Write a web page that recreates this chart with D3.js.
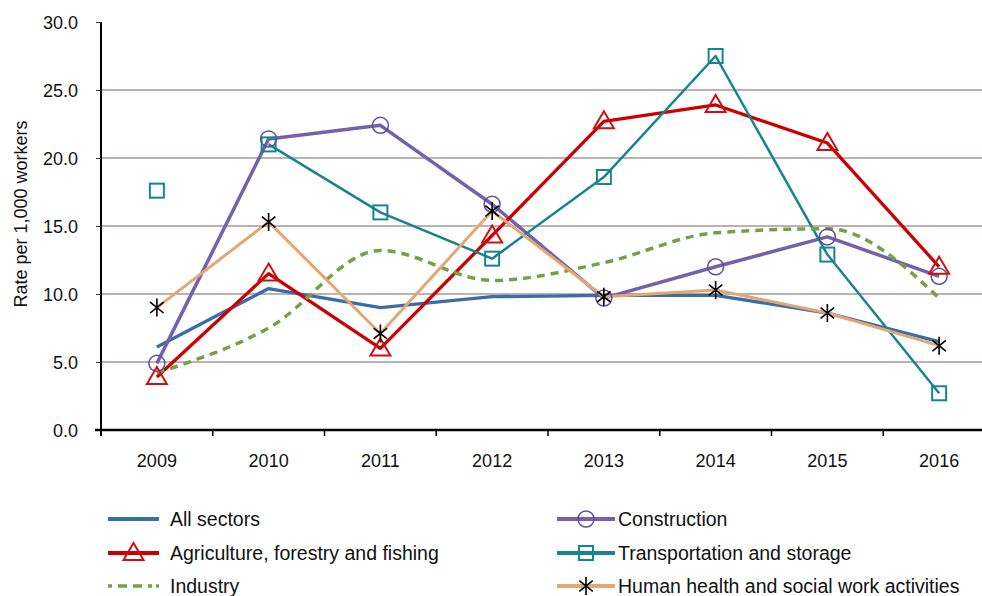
<!DOCTYPE html>
<html>
<head>
<meta charset="utf-8">
<script src="https://cdn.jsdelivr.net/npm/d3@7"></script>
<style>
  html, body { margin: 0; padding: 0; background: #fff; }
  svg { display: block; font-family: "Liberation Sans", Arial, sans-serif; }
</style>
</head>
<body>
<svg id="chart" width="982" height="596"></svg>
<script>
const years = ["2009", "2010", "2011", "2012", "2013", "2014", "2015", "2016"];
const yTicks = [0, 5, 10, 15, 20, 25, 30];

const allSectors   = [6.1, 10.4, 9.0, 9.8, 9.9, 9.9, 8.6, 6.5];
const construction = [4.9, 21.4, 22.4, 16.6, 9.7, 12.0, 14.2, 11.3];
const agriculture  = [3.9, 11.5, 6.0, 14.3, 22.7, 23.9, 21.1, 12.0];
const transport    = [17.6, 21.0, 16.0, 12.6, 18.6, 27.5, 12.9, 2.7];
const industry     = [4.2, 7.5, 13.2, 11.0, 12.3, 14.5, 14.8, 9.7];
const health       = [9.0, 15.3, 7.1, 16.1, 9.8, 10.3, 8.6, 6.2];

const series = [
  { name: "All sectors", values: allSectors, color: "#3b6ea5", width: 3.3, marker: null, curve: false, start: 0 },
  { name: "Construction", values: construction, color: "#7461ad", mcolor: "#5e4f9e", width: 3.5, marker: "circle", curve: false, start: 0 },
  { name: "Agriculture, forestry and fishing", values: agriculture, color: "#cc0000", mcolor: "#cc1111", width: 3.3, marker: "triangle", curve: false, start: 0 },
  { name: "Transportation and storage", values: transport, color: "#16868c", mcolor: "#16868c", width: 2.5, marker: "square", curve: false, start: 1 },
  { name: "Industry", values: industry, color: "#76a045", width: 3.5, marker: null, curve: true, dash: "8,6", start: 0 },
  { name: "Human health and social work activities", values: health, color: "#e6a674", mcolor: "#000", width: 3, marker: "star", curve: false, start: 0 }
];

const svg = d3.select("#chart");
const pLeft = 101, pRight = 995, pTop = 22, pBottom = 430;

const x = d3.scaleBand().domain(years).range([pLeft, pRight]);
const y = d3.scaleLinear().domain([0, 30]).range([pBottom, pTop]);

// gridlines
svg.append("g").selectAll("line").data(yTicks.filter(d => d > 0 && d < 30)).join("line")
  .attr("x1", pLeft).attr("x2", 982)
  .attr("y1", d => y(d)).attr("y2", d => y(d))
  .attr("stroke", "#a59a9a").attr("stroke-width", 1.5);

// y axis
const yAxis = d3.axisLeft(y).tickValues(yTicks).tickFormat(d3.format(".1f")).tickSize(5).tickSizeOuter(0);
const gy = svg.append("g").attr("transform", `translate(${pLeft},0)`).call(yAxis);
gy.select(".domain").attr("stroke", "#000").attr("stroke-width", 2).attr("d", `M0,${pTop}V${pBottom + 6}`);
gy.selectAll(".tick line").attr("stroke", "#333").attr("stroke-width", 1);
gy.selectAll(".tick text").attr("font-size", 18).attr("fill", "#111").attr("x", -23).attr("dy", "0.35em");

// x axis
const xAxis = d3.axisBottom(x).tickSize(0).tickSizeOuter(0);
const gx = svg.append("g").attr("transform", `translate(0,${pBottom})`).call(xAxis);
gx.select(".domain").attr("stroke", "#000").attr("stroke-width", 2.5).attr("d", `M${pLeft - 6},0H${pRight}`);
gx.selectAll(".tick text").attr("font-size", 18).attr("fill", "#111").attr("dy", 0).attr("y", 37);
// band-boundary ticks
svg.append("g").selectAll("line").data(years.slice(1)).join("line")
  .attr("x1", d => x(d)).attr("x2", d => x(d))
  .attr("y1", pBottom).attr("y2", pBottom + 6)
  .attr("stroke", "#000").attr("stroke-width", 1.5);

// y axis title
svg.append("text")
  .attr("transform", `translate(27,214) rotate(-90)`)
  .attr("text-anchor", "middle").attr("font-size", 18).attr("fill", "#111")
  .text("Rate per 1,000 workers");

const cx = i => x(years[i]) + x.bandwidth() / 2;

function drawMarker(g, type, px, py, color) {
  if (type === "circle") {
    g.append("circle").attr("cx", px).attr("cy", py).attr("r", 8)
      .attr("fill", "none").attr("stroke", color).attr("stroke-width", 1.5);
  } else if (type === "square") {
    g.append("rect").attr("x", px - 7).attr("y", py - 7).attr("width", 14).attr("height", 14)
      .attr("fill", "none").attr("stroke", color).attr("stroke-width", 2);
  } else if (type === "triangle") {
    g.append("path").attr("d", `M${px},${py - 10}L${px + 10},${py + 7}L${px - 10},${py + 7}Z`)
      .attr("fill", "none").attr("stroke", color).attr("stroke-width", 2);
  } else if (type === "star") {
    const s = 9;
    g.append("path")
      .attr("d", `M${px},${py - s}V${py + s}M${px - s * 0.75},${py - s * 0.6}L${px + s * 0.75},${py + s * 0.6}M${px - s * 0.75},${py + s * 0.6}L${px + s * 0.75},${py - s * 0.6}`)
      .attr("fill", "none").attr("stroke", color).attr("stroke-width", 1.6);
  }
}

const plot = svg.append("g");
series.forEach(s => {
  const pts = s.values.map((v, i) => [cx(i), y(v)]).slice(s.start);
  const line = d3.line().curve(s.curve ? d3.curveMonotoneX : d3.curveLinear);
  plot.append("path").attr("d", line(pts))
    .attr("fill", "none").attr("stroke", s.color).attr("stroke-width", s.width)
    .attr("stroke-dasharray", s.dash || null).attr("stroke-linejoin", "round");
});
series.forEach(s => {
  if (!s.marker) return;
  const g = plot.append("g");
  s.values.forEach((v, i) => drawMarker(g, s.marker, cx(i), y(v), s.mcolor));
});

// legend
const legendPos = [
  [108, 519, 51, 170], [557, 519, 58, 618],
  [108, 553, 51, 170], [557, 553, 58, 618],
  [108, 586, 51, 170], [557, 586, 58, 618]
];
const legend = svg.append("g");
series.forEach((s, k) => {
  const [lx, ly, lw, tx] = legendPos[k];
  const g = legend.append("g");
  g.append("line").attr("x1", lx).attr("x2", lx + lw).attr("y1", ly).attr("y2", ly)
    .attr("stroke", s.color).attr("stroke-width", s.dash ? 3.5 : 4)
    .attr("stroke-dasharray", s.dash ? "4,6,9,6,9,6,4" : null);
  if (s.marker) drawMarker(g, s.marker, lx + lw / 2, ly, s.mcolor);
  g.append("text").attr("x", tx).attr("y", ly + 7).attr("font-size", 19.5).attr("fill", "#111").text(s.name);
});
</script>
</body>
</html>
